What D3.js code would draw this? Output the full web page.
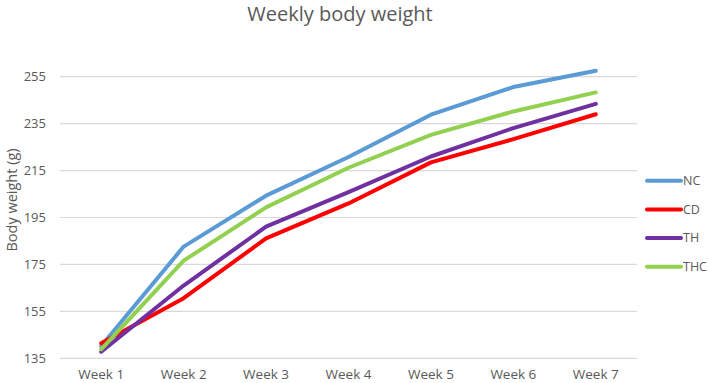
<!DOCTYPE html>
<html><head><meta charset="utf-8">
<script src="https://cdn.jsdelivr.net/npm/d3@7"></script>
<style>body{margin:0;background:#fff}svg{display:block}</style>
</head><body><svg id="c" width="709" height="383"></svg>
<script>
const categories = ["Week 1","Week 2","Week 3","Week 4","Week 5","Week 6","Week 7"];
const seriesNames = ["NC","CD","TH","THC"];
const NC  = [140.2, 182.6, 204.3, 220.8, 238.8, 250.6, 257.5];
const CD  = [141.4, 160.6, 186.1, 201.0, 218.5, 228.4, 239.0];
const TH  = [137.8, 166.0, 191.1, 205.8, 221.0, 233.1, 243.4];
const THC = [138.8, 176.6, 199.3, 216.2, 230.2, 240.2, 248.3];
const yTicks = [135,155,175,195,215,235,255];
const colors = ["#5B9BD5","#FF0000","#7030A0","#92D050"];
const series = [NC, CD, TH, THC];

const svg = d3.select("#c");
const font = "'Open Sans', 'Noto Sans', sans-serif";
const x = d3.scaleBand().domain(categories).range([60, 637]);
const y = d3.scaleLinear().domain([135, 255]).range([358.3, 76.7]);

// gridlines
svg.append("g").selectAll("line").data(yTicks).join("line")
  .attr("x1", 60).attr("x2", 637)
  .attr("y1", d => y(d)).attr("y2", d => y(d))
  .attr("stroke", "#d9d9d9").attr("stroke-width", 1.2);

// y axis labels
const ya = svg.append("g").attr("transform", "translate(60,0)")
  .call(d3.axisLeft(y).tickValues(yTicks).tickSize(0).tickPadding(14));
ya.select(".domain").remove();
ya.selectAll("text").attr("font-family", font).attr("font-size", 13).attr("fill", "#595959");

// x axis labels
const xa = svg.append("g").attr("transform", "translate(0,358.3)")
  .call(d3.axisBottom(x).tickSize(0).tickPadding(11));
xa.select(".domain").remove();
xa.selectAll("text").attr("font-family", font).attr("font-size", 13.5).attr("fill", "#595959");

// lines
const line = d3.line().x((d,i) => x(categories[i]) + x.bandwidth()/2).y(d => y(d));
svg.append("g").selectAll("path").data(series).join("path")
  .attr("d", d => line(d)).attr("fill", "none")
  .attr("stroke", (d,i) => colors[i]).attr("stroke-width", 4)
  .attr("stroke-linejoin", "round").attr("stroke-linecap", "round");

// legend
const lg = svg.append("g").selectAll("g").data(seriesNames).join("g")
  .attr("transform", (d,i) => `translate(647,${180.7 + i*28.7})`);
lg.append("line").attr("x1", 0).attr("x2", 34).attr("stroke", (d,i) => colors[i])
  .attr("stroke-width", 4).attr("stroke-linecap", "round");
lg.append("text").attr("x", 36).attr("dy", "0.35em").text(d => d)
  .attr("font-family", font).attr("font-size", 12.5).attr("fill", "#595959");

// title
svg.append("text").attr("x", 340).attr("y", 21).attr("text-anchor", "middle")
  .attr("font-family", font).attr("font-size", 20).attr("fill", "#595959").text("Weekly body weight");

// y label
svg.append("text").attr("transform", "translate(17,200) rotate(-90)").attr("text-anchor", "middle")
  .attr("font-family", font).attr("font-size", 14.5).attr("fill", "#595959").text("Body weight (g)");
</script></body></html>
